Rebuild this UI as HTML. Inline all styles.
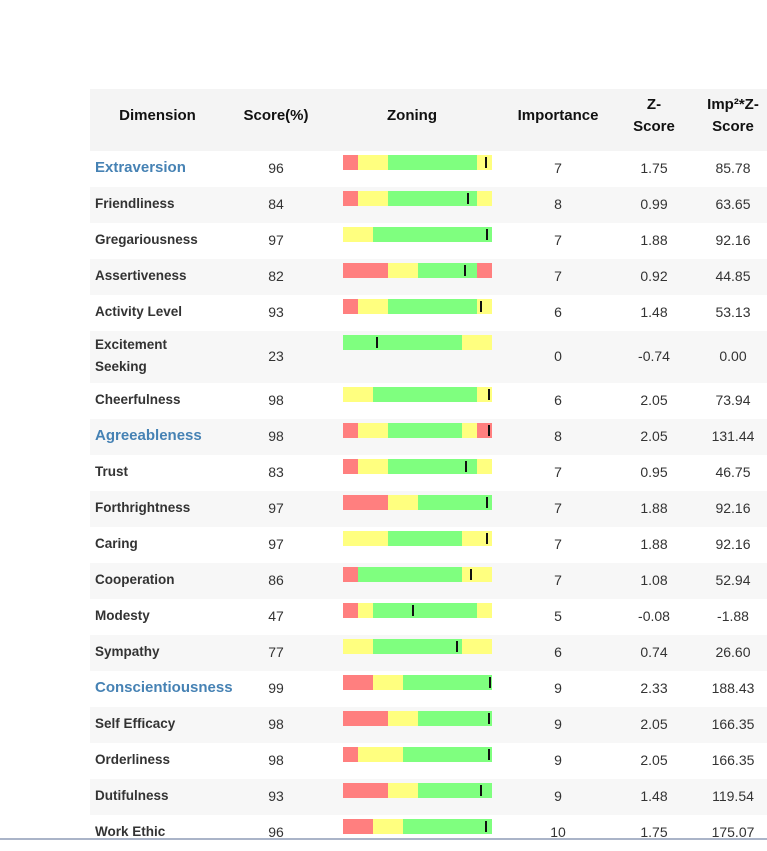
<!DOCTYPE html>
<html><head><meta charset="utf-8"><style>
body{margin:0;width:767px;height:840px;overflow:hidden;background:#fff;font-family:"Liberation Sans",Arial,sans-serif;color:#333;position:relative}
.a{position:absolute}
.hd{font-weight:bold;font-size:15px;color:#111;text-align:center;line-height:22px}
.c{text-align:center;font-size:14px}
.nm{font-weight:bold;font-size:13.5px;color:#333;line-height:22px}
.cat{font-weight:bold;font-size:15px;color:#4682b4}
</style></head><body>
<div class="a" style="left:90px;top:89px;width:677px;height:62px;background:#f4f4f4"></div>
<div class="a hd" style="left:100px;top:105px;width:115px">Dimension</div>
<div class="a hd" style="left:226px;top:105px;width:100px">Score(%)</div>
<div class="a hd" style="left:362px;top:105px;width:100px">Zoning</div>
<div class="a hd" style="left:503px;top:105px;width:110px">Importance</div>
<div class="a hd" style="left:614px;top:94px;width:80px">Z-<br>Score</div>
<div class="a hd" style="left:698px;top:94px;width:70px">Imp²*Z-<br>Score</div>
<div id="rows"></div>
<div class="a" style="left:0;top:838px;width:767px;height:2px;background:#aab4c8"></div>
<script>
const names=["Extraversion","Friendliness","Gregariousness","Assertiveness","Activity Level","Excitement Seeking","Cheerfulness","Agreeableness","Trust","Forthrightness","Caring","Cooperation","Modesty","Sympathy","Conscientiousness","Self Efficacy","Orderliness","Dutifulness","Work Ethic"];
const categories=[0,7,14];
const scores=[96,84,97,82,93,23,98,98,83,97,97,86,47,77,99,98,98,93,96];
const importance=[7,8,7,7,6,0,6,8,7,7,7,7,5,6,9,9,9,9,10];
const zScores=["1.75","0.99","1.88","0.92","1.48","-0.74","2.05","2.05","0.95","1.88","1.88","1.08","-0.08","0.74","2.33","2.05","2.05","1.48","1.75"];
const impZ=["85.78","63.65","92.16","44.85","53.13","0.00","73.94","131.44","46.75","92.16","92.16","52.94","-1.88","26.60","188.43","166.35","166.35","119.54","175.07"];
const zones=["R10Y20G60Y10","R10Y20G60Y10","Y20G80","R30Y20G40R10","R10Y20G60Y10","G80Y20","Y20G70Y10","R10Y20G50Y10R10","R10Y20G60Y10","R30Y20G50","Y30G50Y20","R10G70Y20","R10Y10G70Y10","Y20G60Y20","R20Y20G60","R30Y20G50","R10Y30G60","R30Y20G50","R20Y20G60"];
const col={R:"#ff7f7f",Y:"#ffff7f",G:"#7fff7f"};
const root=document.getElementById('rows');
const BX=343,BW=149;
let rowTop=151;
function mk(cls,style,txt){const e=document.createElement('div');if(cls)e.className=cls;e.style.cssText=style;if(txt!==undefined)e.textContent=txt;root.appendChild(e);return e;}
names.forEach((n,i)=>{
  const h=(n==="Excitement Seeking")?52:36;
  const bg=mk('a','left:90px;top:'+rowTop+'px;width:677px;height:'+h+'px;background:'+(i%2?'#f7f7f7':'#fff'));
  
  
  const isCat=categories.includes(i);
  const ty=rowTop+(h-22)/2-1;
  let nm;
  if(n==="Excitement Seeking"){nm=mk('a nm','left:95px;top:'+(rowTop+3)+'px;width:100px');nm.innerHTML='Excitement<br>Seeking';}
  else nm=mk('a '+(isCat?'cat':'nm'),'left:95px;top:'+ty+'px;line-height:22px;white-space:nowrap',n);
  
  
  const s=mk('a c','left:236px;top:'+ty+'px;width:80px;line-height:22px',scores[i]);
  
  
  const segs=zones[i].match(/[RYG]\d+/g);let acc=0;
  segs.forEach(sg=>{const c=sg[0],w=+sg.slice(1);
    const z=mk('a','left:'+(BX+acc/100*BW)+'px;top:'+(rowTop+4)+'px;width:'+(w/100*BW+0.3)+'px;height:15px;background:'+col[c]);
    
    
    acc+=w;});
  const m=mk('a','left:'+(BX+scores[i]/100*BW-1.5)+'px;top:'+(rowTop+6)+'px;width:2px;height:11px;background:#111');
  
  
  const im=mk('a c','left:518px;top:'+ty+'px;width:80px;line-height:22px',importance[i]);
  
  
  const z=mk('a c','left:614px;top:'+ty+'px;width:80px;line-height:22px',zScores[i]);
  
  
  const iz=mk('a c','left:693px;top:'+ty+'px;width:80px;line-height:22px',impZ[i]);
  
  
  rowTop+=h;
});
</script>
</body></html>
